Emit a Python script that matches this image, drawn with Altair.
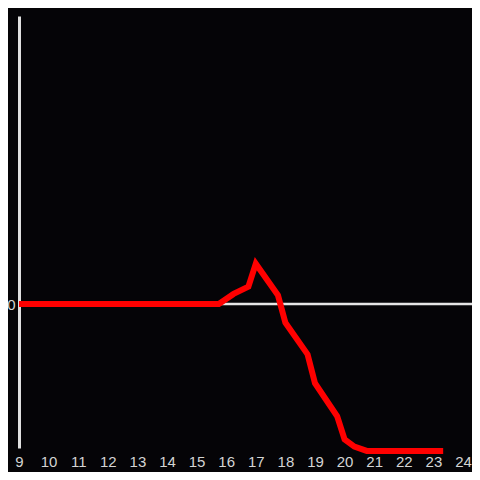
import altair as alt
import pandas as pd

hours = [9.0, 15.75, 16.25, 16.75, 17.0, 17.75, 18.0, 18.75, 19.0, 19.75, 20.0, 20.33, 20.75, 23.33]
values = [0.0, 0.0, 0.07, 0.12, 0.28, 0.06, -0.13, -0.35, -0.55, -0.78, -0.94, -0.99, -1.02, -1.02]
x_ticks = list(range(9, 25))

df = pd.DataFrame({"hour": hours, "value": values})
zero_df = pd.DataFrame({"x": [9.0], "x2": [24.4], "y": [0.0]})

BG = "#050407"
xscale = alt.Scale(domain=[9, 24], nice=False, zero=False)
yscale = alt.Scale(domain=[-1, 2], nice=False)

xaxis = alt.Axis(values=x_ticks, title=None, domain=False, ticks=False, grid=False,
                 labelPadding=6, labelFontSize=15, labelColor="#d4d4d4",
                 labelFlush=False, labelOverlap=False, labelFont="Liberation Sans")
yaxis = alt.Axis(values=[0], title=None, ticks=False, grid=False, domain=True,
                 domainColor="#e0e0e0", domainWidth=3, labelPadding=4,
                 labelFontSize=15, labelColor="#d4d4d4", labelFont="Liberation Sans")

rule = alt.Chart(zero_df).mark_rule(color="#e6e6e6", strokeWidth=2.5, clip=False).encode(
    x=alt.X("x:Q", scale=xscale, axis=xaxis),
    x2="x2:Q",
    y=alt.Y("y:Q", scale=yscale, axis=yaxis),
)

line = alt.Chart(df).mark_line(color="#ff0000", strokeWidth=6, strokeCap="butt", strokeJoin="miter").encode(
    x=alt.X("hour:Q", scale=xscale, axis=xaxis),
    y=alt.Y("value:Q", scale=yscale, axis=yaxis),
)

chart = alt.layer(rule, line).properties(
    width=444, height=432,
    autosize=alt.AutoSizeParams(type="none"),
    padding={"left": 11, "top": 8, "right": 9, "bottom": 24},
    background=BG,
).configure_view(stroke=None)

chart.save("out.html", embed_options={"renderer": "svg", "actions": False})
